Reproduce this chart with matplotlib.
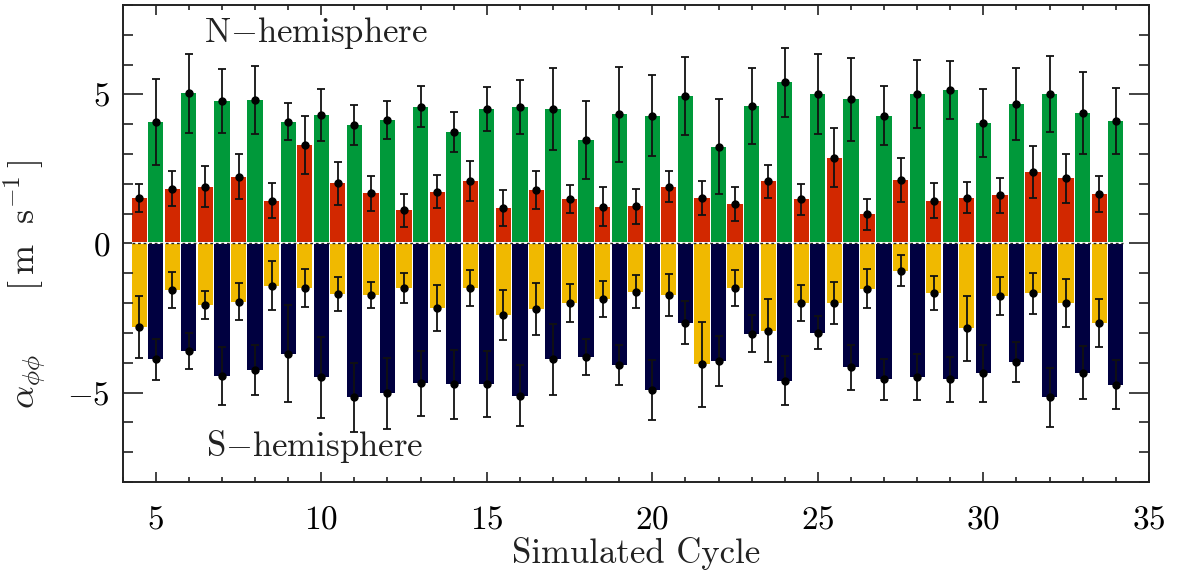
import numpy as np
import matplotlib
matplotlib.use("Agg")
import matplotlib.pyplot as plt

plt.rcParams['font.family'] = 'serif'
plt.rcParams['font.serif'] = ['cmr10', 'DejaVu Serif']
plt.rcParams['mathtext.fontset'] = 'cm'
plt.rcParams['axes.formatter.use_mathtext'] = True

# cycles: whole cycles (green / navy) and half cycles (red / yellow)
cyc_full = np.arange(5, 35)
cyc_half = np.arange(4.5, 34, 1.0)

# N-hemisphere, half cycles (red)
red_val = [1.54, 1.84, 1.91, 2.24, 1.44, 3.31, 2.02, 1.69, 1.11, 1.74,
           2.11, 1.20, 1.80, 1.50, 1.23, 1.25, 1.91, 1.52, 1.31, 2.09,
           1.48, 2.88, 0.98, 2.14, 1.44, 1.54, 1.61, 2.39, 2.19, 1.65]
red_err = [0.47, 0.58, 0.69, 0.75, 0.60, 0.98, 0.72, 0.59, 0.56, 0.55,
           0.67, 0.60, 0.64, 0.47, 0.65, 0.59, 0.51, 0.57, 0.57, 0.55,
           0.51, 1.00, 0.52, 0.74, 0.59, 0.53, 0.60, 0.87, 0.82, 0.60]

# N-hemisphere, full cycles (green)
green_val = [4.08, 5.04, 4.78, 4.81, 4.08, 4.31, 3.98, 4.14, 4.59, 3.74,
             4.52, 4.58, 4.50, 3.48, 4.33, 4.29, 4.95, 3.24, 4.61, 5.41,
             5.01, 4.83, 4.29, 5.00, 5.15, 4.04, 4.67, 5.02, 4.37, 4.10]
green_err = [1.45, 1.32, 1.08, 1.15, 0.62, 0.86, 0.66, 0.64, 0.69, 0.68,
             0.73, 0.92, 1.38, 1.31, 1.59, 1.36, 1.30, 1.59, 1.28, 1.16,
             1.35, 1.38, 0.98, 1.14, 0.96, 1.14, 1.21, 1.28, 1.38, 1.11]

# S-hemisphere, half cycles (yellow)
yel_val = [-2.81, -1.55, -2.05, -1.95, -1.42, -1.50, -1.70, -1.73, -1.48, -2.17,
           -1.50, -2.41, -2.21, -1.99, -1.85, -1.62, -1.73, -4.05, -1.50, -2.92,
           -1.99, -1.99, -1.51, -0.92, -1.66, -2.85, -1.77, -1.67, -2.00, -2.67]
yel_err = [1.04, 0.60, 0.47, 0.62, 0.82, 0.64, 0.58, 0.45, 0.50, 0.77,
           0.61, 0.84, 0.87, 0.63, 0.60, 0.56, 0.70, 1.43, 0.61, 1.07,
           0.60, 0.70, 0.64, 0.52, 0.58, 1.08, 0.63, 0.69, 0.80, 0.81]

# S-hemisphere, full cycles (navy)
navy_val = [-3.89, -3.61, -4.45, -4.25, -3.69, -4.49, -5.16, -5.03, -4.69, -4.72,
            -4.70, -5.11, -3.89, -3.81, -4.08, -4.92, -2.66, -3.95, -3.02, -4.60,
            -2.99, -4.15, -4.56, -4.48, -4.56, -4.36, -3.97, -5.16, -4.33, -4.73]
navy_err = [0.69, 0.61, 0.98, 0.83, 1.62, 1.37, 1.15, 1.20, 1.08, 1.16,
            1.11, 1.02, 1.18, 0.61, 0.67, 1.00, 0.72, 0.84, 0.61, 0.82,
            0.55, 0.75, 0.69, 0.78, 0.76, 0.94, 0.68, 1.00, 0.88, 0.81]

c_red = '#d22800'
c_green = '#00993a'
c_yel = '#f0b900'
c_navy = '#000040'

fig = plt.figure(figsize=(11.85, 5.79), dpi=100)
ax = fig.add_axes([0.1035, 0.1675, 0.866, 0.8239])

w = 0.46
ax.bar(cyc_half, red_val, width=w, color=c_red, linewidth=0)
ax.bar(cyc_full, green_val, width=w, color=c_green, linewidth=0)
ax.bar(cyc_half, yel_val, width=w, color=c_yel, linewidth=0)
ax.bar(cyc_full, navy_val, width=w, color=c_navy, linewidth=0)

# zero line, dashed black over white
x0, x1 = cyc_half[0] - w / 2, cyc_full[-1] + w / 2
ax.hlines(0, x0, x1, color='white', lw=1.4, zorder=3)
ax.hlines(0, x0, x1, color='#222222', lw=1.0, linestyles=(0, (2, 2)), zorder=3)

ekw = dict(fmt='o', color='black', ecolor='#111111', ms=5, elinewidth=1.3,
           capsize=3, capthick=1.3, zorder=4)
ax.errorbar(cyc_half, red_val, yerr=red_err, **ekw)
ax.errorbar(cyc_full, green_val, yerr=green_err, **ekw)
ax.errorbar(cyc_half, yel_val, yerr=yel_err, **ekw)
ax.errorbar(cyc_full, navy_val, yerr=navy_err, **ekw)

ax.set_xlim(4, 35)
ax.set_ylim(-8, 8)
ax.set_xticks(np.arange(5, 36, 5))
ax.set_xticks(np.arange(4, 36, 1), minor=True)
ax.set_yticks([-5, 0, 5])
ax.set_yticks(np.arange(-8, 9, 1), minor=True)

ax.tick_params(axis='both', which='both', direction='in', top=True, right=True,
               labelsize=24, width=1.2, color='#222222')
ax.tick_params(axis='y', which='major', length=14.5, pad=9)
ax.tick_params(axis='y', which='minor', length=7.2)
ax.tick_params(axis='x', which='major', length=7.2, pad=17)
ax.tick_params(axis='x', which='minor', length=3.6)
for s in ax.spines.values():
    s.set_linewidth(1.4)
    s.set_color('#222222')

ax.text(9.85, 7.05, 'N$-$hemisphere', fontsize=25, ha='center', va='center',
        color='#222222')
ax.text(9.8, -6.8, 'S$-$hemisphere', fontsize=25, ha='center', va='center',
        color='#222222')

ax.set_xlabel('Simulated Cycle', fontsize=25, color='#222222', labelpad=2)
ax.set_ylabel(r'$\alpha_{\phi\phi}\qquad[\,\mathrm{m\ \ s^{-1}}\,]$',
              fontsize=26, color='#222222')
ax.yaxis.set_label_coords(-0.073, 0.415)

fig.savefig('out.png', dpi=100)
